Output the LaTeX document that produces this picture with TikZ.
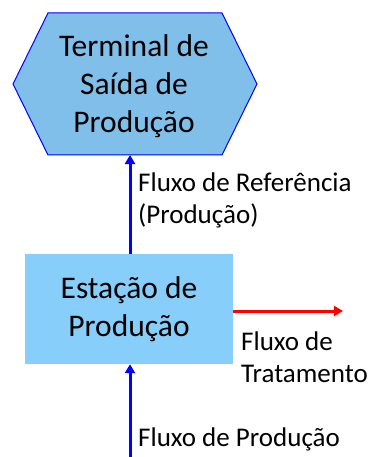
\documentclass[tikz,border=0pt]{standalone}
\usepackage{fontspec}
\setmainfont{Carlito}
\usetikzlibrary{arrows.meta}
\definecolor{hexfill}{HTML}{7FBFEA}
\definecolor{boxfill}{HTML}{87CEFA}
\definecolor{flowblue}{HTML}{0000FF}
\definecolor{flowred}{HTML}{FF0000}
\tikzset{
  flow/.style={line width=3pt,-{Triangle[length=9pt,width=10pt]}},
  lbl/.style={anchor=west,align=left,font=\fontsize{27}{32}\selectfont,inner sep=0pt},
  big/.style={align=center,font=\fontsize{31.5}{38}\selectfont},
}
\begin{document}
\begin{tikzpicture}[x=1pt,y=-1pt]
\useasboundingbox (0,0) rectangle (369,457);
% hexagon
\draw[flowblue,fill=hexfill,line width=1pt] (48,13) -- (222,13) -- (257,84) -- (222,155) -- (48,155) -- (13,84) -- cycle;
\node[big] (term) at (134,86) {Terminal de\\Saída de\\Produção};
\coordinate (termbot) at (130,155);
% station box
\node[fill=boxfill,minimum width=208pt,minimum height=110pt,inner sep=0pt,big] (est) at (129,309) {Estação de\\Produção};
\coordinate (bot) at (130,457);
\coordinate (redend) at (343,311);
\draw[flow,flowblue] (est.north -| termbot) -- (termbot);
\draw[flow,flowblue] (bot) -- (est.south -| bot);
\draw[flow,flowred] (est.east |- redend) -- (redend);
\node[lbl] (l1) at (138,200) {Fluxo de Referência\\(Produção)};
\node[lbl] (l2) at (241,357) {Fluxo de\\Tratamento};
\node[lbl] (l3) at (138,439) {Fluxo de Produção};
\end{tikzpicture}
\end{document}
